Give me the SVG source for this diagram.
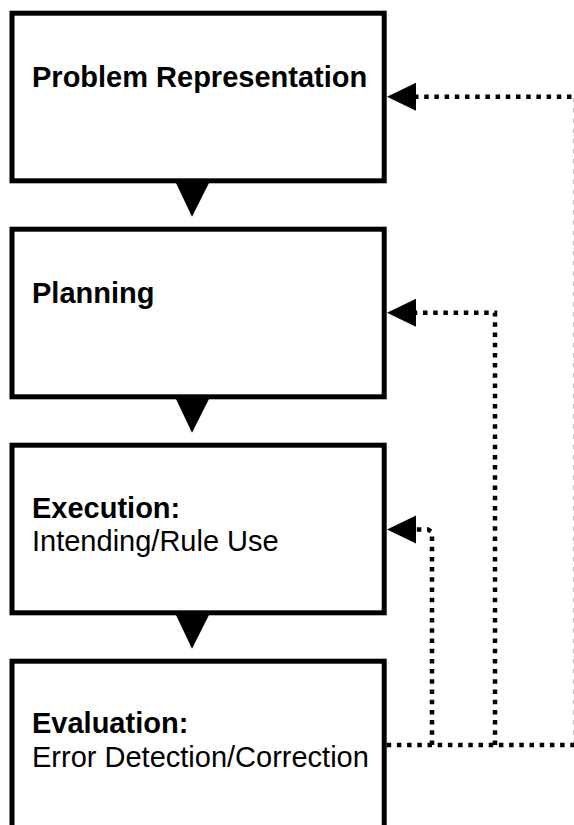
<svg xmlns="http://www.w3.org/2000/svg" width="574" height="825" viewBox="0 0 574 825">
  <style>
    .box { fill: #ffffff; stroke: #000000; stroke-width: 5; }
    .tri { fill: #000000; stroke: none; }
    .title { font-family: "Liberation Sans", Arial, sans-serif; font-size: 29px; font-weight: bold; fill: #000000; }
    .sub { font-family: "Liberation Sans", Arial, sans-serif; font-size: 29px; fill: #000000; }
    .fb { fill: none; stroke: #000000; stroke-width: 4.5; stroke-dasharray: 4.5 5.7; }
  </style>
  <defs>
    <marker id="head" markerUnits="userSpaceOnUse" viewBox="0 -14 29 28" refX="0" refY="0" markerWidth="29" markerHeight="28" orient="auto" overflow="visible">
      <path d="M0,-14 L29,0 L0,14 Z" fill="#000000"/>
    </marker>
  </defs>
  <rect width="574" height="825" fill="#ffffff"/>

  <g id="connectors">
    <polygon class="tri" points="175,181 210,181 192,216.7"/>
    <polygon class="tri" points="175,397 210,397 192,432.7"/>
    <polygon class="tri" points="175,613 210,613 192,648.7"/>
    <path class="fb" d="M386.7,745 H576"/>
    <path class="fb" d="M576,745 V96.7 H416" marker-end="url(#head)"/>
    <path class="fb" d="M495,745 V312.7 H416" marker-end="url(#head)"/>
    <path class="fb" d="M432,745 V532 L428,529.5 H416" marker-end="url(#head)"/>
  </g>

  <g id="node-problem-representation">
    <rect class="box" x="12" y="13.2" width="372.2" height="167.6"/>
    <text class="title" x="32" y="87.3">Problem Representation</text>
  </g>
  <g id="node-planning">
    <rect class="box" x="12" y="229.2" width="372.2" height="167.6"/>
    <text class="title" x="32" y="302.5">Planning</text>
  </g>
  <g id="node-execution">
    <rect class="box" x="12" y="445.2" width="372.2" height="167.6"/>
    <text class="title" x="32" y="517.8">Execution:</text>
    <text class="sub" x="32" y="551">Intending/Rule Use</text>
  </g>
  <g id="node-evaluation">
    <rect class="box" x="12" y="661.2" width="372.2" height="200"/>
    <text class="title" x="32" y="733.4">Evaluation:</text>
    <text class="sub" x="32" y="766.8">Error Detection/Correction</text>
  </g>
</svg>
